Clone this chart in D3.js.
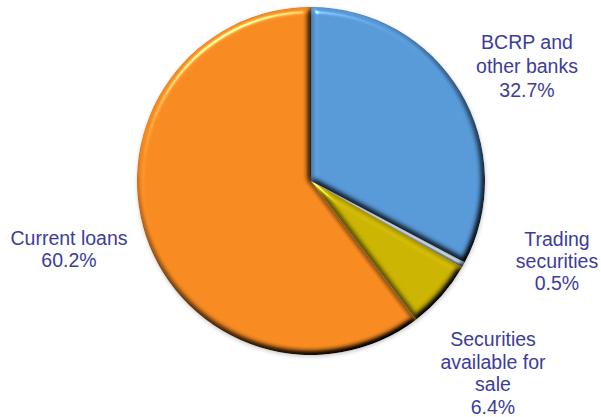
<!DOCTYPE html>
<html>
<head>
<meta charset="utf-8">
<script src="https://cdn.jsdelivr.net/npm/d3@7"></script>
<style>
  html, body { margin: 0; padding: 0; background: #ffffff; }
  svg { display: block; }
  .label { font-family: "Liberation Sans", Arial, sans-serif; font-size: 19.5px; fill: #3c3c9c; }
</style>
</head>
<body>
<svg id="chart" width="601" height="417"></svg>
<script>
// Asset composition shares (%), clockwise from 12 o'clock
const categories = ["BCRP and other banks", "Trading securities", "Securities available for sale", "Current loans"];
const shares = [32.7, 0.5, 6.4, 60.2];
const labelLines = [
  ["BCRP and", "other banks", "32.7%"],
  ["Trading", "securities", "0.5%"],
  ["Securities", "available for", "sale", "6.4%"],
  ["Current loans", "60.2%"]
];
const colors = ["#5697d6", "#b4c4d2", "#c9b200", "#f5891f"];

const width = 601, height = 417;
const cx = 311, cy = 181, radius = 174;

const svg = d3.select("#chart");
const defs = svg.append("defs");

// Bevel: blurred alpha as a height map, lit from the upper left
const bevel = defs.append("filter").attr("id", "bevel")
  .attr("color-interpolation-filters", "sRGB")
  .attr("x", "-5%").attr("y", "-5%").attr("width", "110%").attr("height", "110%");
bevel.append("feGaussianBlur").attr("in", "SourceAlpha").attr("stdDeviation", 3).attr("result", "blur");
const diff = bevel.append("feDiffuseLighting").attr("in", "blur").attr("surfaceScale", 6)
  .attr("diffuseConstant", 1.22).attr("lighting-color", "#ffffff").attr("result", "diff");
diff.append("feDistantLight").attr("azimuth", 240).attr("elevation", 55);
bevel.append("feComposite").attr("in", "SourceGraphic").attr("in2", "diff")
  .attr("operator", "arithmetic").attr("k1", 1).attr("result", "shaded");
const spec = bevel.append("feSpecularLighting").attr("in", "blur").attr("surfaceScale", 6)
  .attr("specularConstant", 0.6).attr("specularExponent", 32).attr("lighting-color", "#ffffff").attr("result", "spec");
spec.append("feDistantLight").attr("azimuth", 240).attr("elevation", 35);
bevel.append("feComposite").attr("in", "spec").attr("in2", "SourceAlpha").attr("operator", "in").attr("result", "specIn");
bevel.append("feComposite").attr("in", "shaded").attr("in2", "specIn")
  .attr("operator", "arithmetic").attr("k2", 1).attr("k3", 1).attr("result", "lit");
bevel.append("feComposite").attr("in", "lit").attr("in2", "SourceAlpha").attr("operator", "in");

// Soft shadow under the whole pie
const shadow = defs.append("filter").attr("id", "shadow")
  .attr("x", "-10%").attr("y", "-10%").attr("width", "120%").attr("height", "120%");
shadow.append("feGaussianBlur").attr("in", "SourceAlpha").attr("stdDeviation", 2);

const pie = d3.pie().sort(null).value(d => d);
const arcs = pie(shares);
const arc = d3.arc().innerRadius(0).outerRadius(radius);

const g = svg.append("g").attr("transform", `translate(${cx},${cy})`);

g.append("circle").attr("r", radius).attr("cx", 0.5).attr("cy", 1.5)
  .attr("fill", "#000").attr("opacity", 0.22).attr("filter", "url(#shadow)");

g.selectAll("path.slice")
  .data(arcs)
  .join("path")
  .attr("class", "slice")
  .attr("d", arc)
  .attr("fill", (d, i) => colors[i])
  .attr("stroke", "rgba(60,30,0,0.25)")
  .attr("stroke-width", 0.8)
  .attr("filter", "url(#bevel)");

// Labels: [center x, first baseline, line step]
const labelPos = [
  [527, 48.5, 24],
  [557, 246, 22],
  [493, 346, 22.5],
  [69, 245, 22]
];

const labels = svg.selectAll("text.label")
  .data(labelLines)
  .join("text")
  .attr("class", "label")
  .attr("text-anchor", "middle");

labels.each(function(lines, i) {
  const [x, y, step] = labelPos[i];
  d3.select(this).selectAll("tspan")
    .data(lines)
    .join("tspan")
    .attr("x", x)
    .attr("y", (d, j) => y + j * step)
    .text(d => d);
});
</script>
</body>
</html>
